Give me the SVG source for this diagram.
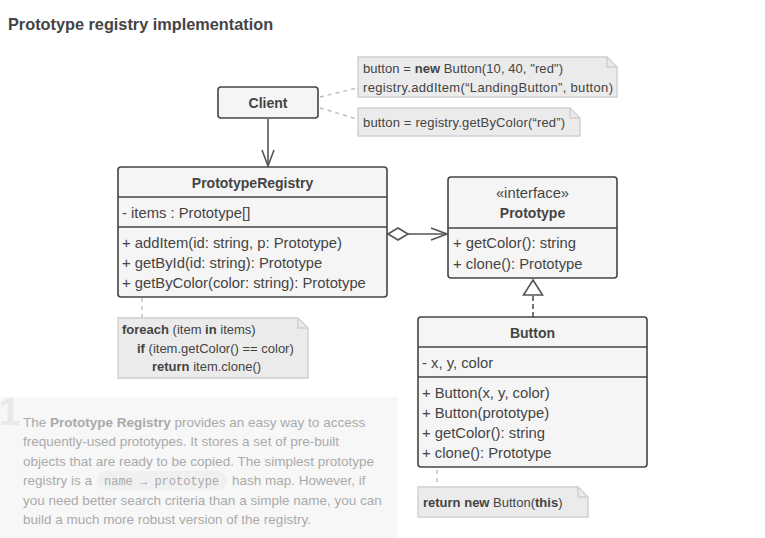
<svg xmlns="http://www.w3.org/2000/svg" width="765" height="538" viewBox="0 0 765 538">
<style>
text{font-family:"Liberation Sans",Arial,sans-serif;fill:#444;}
.t{font-size:14.8px;}
.h{font-size:14px;font-weight:bold;}
.b{font-weight:bold;}
.box{fill:#f5f5f5;stroke:#444;stroke-width:1.6;}
.div{stroke:#444;stroke-width:1.6;}
.note{fill:#ebebeb;stroke:#cfcfcf;stroke-width:1.4;}
.fold{fill:none;stroke:#cfcfcf;stroke-width:1.4;}
.nt{font-size:13px;fill:#444;}
.con{stroke:#555;stroke-width:1.6;fill:none;}
.dash{stroke:#bbb;stroke-width:1.4;stroke-dasharray:4 4;fill:none;}
.p{font-size:13.5px;fill:#aaa;}
</style>
<defs>
<marker id="open" markerWidth="20" markerHeight="14" refX="17" refY="7" orient="auto" markerUnits="userSpaceOnUse">
<path d="M1,1 L17,7 L1,13" fill="none" stroke="#555" stroke-width="1.6"/>
</marker>
</defs>
<text x="8" y="30" class="b" style="font-size:16.3px">Prototype registry implementation</text>

<g id="connectors">
<line class="con" x1="268" y1="119" x2="268" y2="166" marker-end="url(#open)"/>
<line class="dash" x1="320" y1="97" x2="357" y2="88"/>
<line class="dash" x1="320" y1="108" x2="357" y2="119"/>
<path class="con" d="M388,234 L398,228 L408,234 L398,240 Z" fill="#fff"/>
<line class="con" x1="408" y1="234" x2="447" y2="234" marker-end="url(#open)"/>
<line class="con" x1="533" y1="296" x2="533" y2="317" style="stroke-dasharray:5 3"/>
<path class="con" d="M533,280 L542.5,295 L523.5,295 Z" fill="#fff"/>
<line class="dash" x1="142" y1="298" x2="142" y2="317"/>
<line class="dash" x1="437" y1="470" x2="437" y2="486"/>
</g>

<g id="client">
<rect class="box" x="218" y="87" width="100" height="31" rx="3"/>
<text x="268" y="108" class="h" text-anchor="middle">Client</text>
</g>

<g id="note1">
<path class="note" d="M358,57 H607 L617,67 V97 H358 Z"/>
<path class="fold" d="M607,57 V67 H617"/>
<text x="363" y="73" class="nt" textLength="200">button = <tspan class="b">new</tspan> Button(10, 40, "red")</text>
<text x="363" y="92" class="nt" textLength="250">registry.addItem(“LandingButton”, button)</text>
</g>

<g id="note2">
<path class="note" d="M358,108 H570 L580,118 V136 H358 Z"/>
<path class="fold" d="M570,108 V118 H580"/>
<text x="363" y="127" class="nt" textLength="202">button = registry.getByColor(“red”)</text>
</g>

<g id="registry">
<rect class="box" x="118" y="167" width="269" height="130" rx="3"/>
<line class="div" x1="118" y1="197" x2="387" y2="197"/>
<line class="div" x1="118" y1="227" x2="387" y2="227"/>
<text x="252.5" y="188" class="h" text-anchor="middle">PrototypeRegistry</text>
<text x="122" y="218" class="t">- items : Prototype[]</text>
<text x="122" y="248" class="t">+ addItem(id: string, p: Prototype)</text>
<text x="122" y="268" class="t">+ getById(id: string): Prototype</text>
<text x="122" y="288" class="t">+ getByColor(color: string): Prototype</text>
</g>

<g id="note3">
<path class="note" d="M118,318 H298 L308,328 V378 H118 Z"/>
<path class="fold" d="M298,318 V328 H308"/>
<text x="122" y="334" class="nt"><tspan class="b">foreach</tspan> (item <tspan class="b">in</tspan> items)</text>
<text x="137" y="353" class="nt"><tspan class="b">if</tspan> (item.getColor() == color)</text>
<text x="152" y="371" class="nt"><tspan class="b">return</tspan> item.clone()</text>
</g>

<g id="prototype">
<rect class="box" x="448" y="177" width="169" height="101" rx="3"/>
<line class="div" x1="448" y1="228" x2="617" y2="228"/>
<text x="532.5" y="198" class="t" text-anchor="middle">«interface»</text>
<text x="532.5" y="218" class="h" text-anchor="middle">Prototype</text>
<text x="453" y="248" class="t">+ getColor(): string</text>
<text x="453" y="269" class="t">+ clone(): Prototype</text>
</g>

<g id="button">
<rect class="box" x="418" y="317" width="229" height="150" rx="3"/>
<line class="div" x1="418" y1="347" x2="647" y2="347"/>
<line class="div" x1="418" y1="377" x2="647" y2="377"/>
<text x="532.5" y="338" class="h" text-anchor="middle">Button</text>
<text x="422" y="368" class="t">- x, y, color</text>
<text x="422" y="398" class="t">+ Button(x, y, color)</text>
<text x="422" y="418" class="t">+ Button(prototype)</text>
<text x="422" y="438" class="t">+ getColor(): string</text>
<text x="422" y="458" class="t">+ clone(): Prototype</text>
</g>

<g id="note4">
<path class="note" d="M418,487 H578 L588,497 V517 H418 Z"/>
<path class="fold" d="M578,487 V497 H588"/>
<text x="423" y="507" class="nt"><tspan class="b">return</tspan> <tspan class="b">new</tspan> Button(<tspan class="b">this</tspan>)</text>
</g>

<g id="paragraph">
<rect x="0" y="397" width="398" height="141" fill="#f7f7f7"/>
<text x="-1" y="425" style="font-size:38px;font-weight:bold;fill:#e8e8e8">1</text>
<rect x="97" y="471" width="130" height="19" rx="9" fill="#f0f0f0"/>
<text x="23" y="427" class="p">The <tspan class="b">Prototype Registry</tspan> provides an easy way to access</text>
<text x="23" y="446" class="p">frequently-used prototypes. It stores a set of pre-built</text>
<text x="23" y="466" class="p">objects that are ready to be copied. The simplest prototype</text>
<text x="23" y="485" class="p">registry is a</text>
<text x="104" y="485" style="font-family:'Liberation Mono',monospace;font-size:12px;fill:#aaa">name → prototype</text>
<text x="232" y="485" class="p">hash map. However, if</text>
<text x="23" y="505" class="p">you need better search criteria than a simple name, you can</text>
<text x="23" y="524" class="p">build a much more robust version of the registry.</text>
</g>
</svg>
